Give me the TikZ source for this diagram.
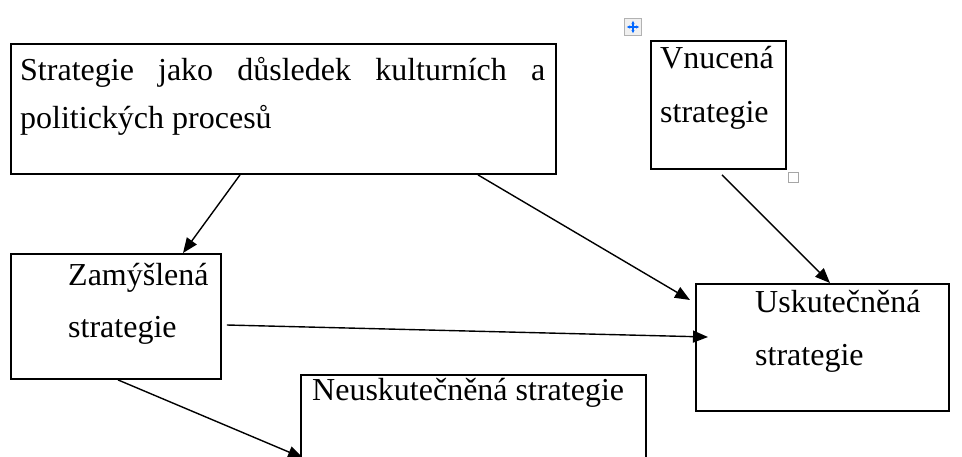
\documentclass[tikz,border=0pt]{standalone}
\usepackage{fontspec}
\setmainfont{Liberation Serif}
\usetikzlibrary{arrows.meta}
\begin{document}
\begin{tikzpicture}[x=1pt,y=-1pt,
  box/.style={draw=black, line width=1.9pt, rectangle, anchor=north west, inner sep=0pt},
  txt/.style={anchor=base west, inner sep=0pt, font=\fontsize{32}{38}\selectfont},
  arr/.style={draw=black, line width=1.4pt, -{Triangle[length=15pt,width=12pt]}}]
\useasboundingbox (0,0) rectangle (962,456);
\clip (0,0) rectangle (962,456);
\fill[white] (0,0) rectangle (962,456);
% boxes
\node[box, minimum width=545pt, minimum height=130pt] (b1) at (10,43) {};
\node[box, minimum width=135pt, minimum height=128pt] (b2) at (650,40) {};
\node[box, minimum width=210pt, minimum height=125pt] (b3) at (10,253) {};
\node[box, minimum width=253pt, minimum height=127pt] (b4) at (695,283) {};
\node[box, minimum width=345pt, minimum height=110pt] (b5) at (300,374) {};
% texts
\node[txt] (t1a) at (20,80) {\makebox[525pt][s]{Strategie jako důsledek kulturních a}};
\node[txt] (t1b) at (20,128) {politických procesů};
\node[txt] (t2a) at (660,68) {Vnucená};
\node[txt] (t2b) at (660,122) {strategie};
\node[txt] (t3a) at (68,285) {Zamýšlená};
\node[txt] (t3b) at (68,337) {strategie};
\node[txt] (t4a) at (755,312) {Uskutečněná};
\node[txt] (t4b) at (755,365) {strategie};
\node[txt] (t5) at (312,400) {Neuskutečněná strategie};
% connectors
\draw[arr] ([xshift=230pt]b1.south west) -- ([xshift=173pt]b3.north west);
\draw[arr] ([xshift=468pt]b1.south west) -- ([xshift=-5pt,yshift=-17pt]b4.north west);
\draw[arr] ([xshift=72pt,yshift=-5pt]b2.south west) -- ([xshift=135pt]b4.north west);
\draw[arr] ([xshift=5pt,yshift=-72pt]b3.north east) -- ([xshift=13pt,yshift=-54pt]b4.north west);
\draw[arr] ([xshift=108pt]b3.south west) -- ([xshift=3pt,yshift=-84pt]b5.north west);
% Word handles
\node[draw=gray!60, fill=gray!12, minimum size=17pt, inner sep=0pt, line width=0.9pt] (mh) at (633,27) {};
\draw[-{Latex[length=3.5pt,width=3.5pt]}, blue!60!cyan, line width=1.2pt] (mh.center) -- ++(6.5,0);
\draw[-{Latex[length=3.5pt,width=3.5pt]}, blue!60!cyan, line width=1.2pt] (mh.center) -- ++(-6.5,0);
\draw[-{Latex[length=3.5pt,width=3.5pt]}, blue!60!cyan, line width=1.2pt] (mh.center) -- ++(0,6.5);
\draw[-{Latex[length=3.5pt,width=3.5pt]}, blue!60!cyan, line width=1.2pt] (mh.center) -- ++(0,-6.5);
\node[draw=gray!70, fill=white, minimum size=10pt, inner sep=0pt, line width=0.9pt, anchor=north west] (rh) at ([xshift=1pt,yshift=-2pt]b2.south east) {};
\end{tikzpicture}
\end{document}
